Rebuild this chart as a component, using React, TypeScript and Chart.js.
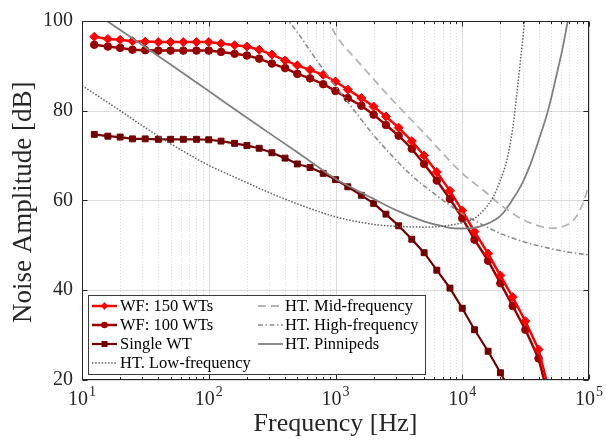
import React, { useEffect, useRef } from 'react';
import { Chart, registerables } from 'chart.js';

Chart.register(...registerables);

// ---- Data ----
const bandFreqs = [12.5, 16, 20, 25, 31.5, 40, 50, 63, 80, 100, 125, 160, 200, 250, 315, 400, 500, 630, 800, 1000,
  1250, 1600, 2000, 2500, 3150, 4000, 5000, 6300, 8000, 10000, 12500, 16000, 20000, 25000, 31500, 40000, 50000];

const wf150 = [96.5, 96.0, 95.8, 95.5, 95.4, 95.3, 95.3, 95.3, 95.3, 95.3, 95.0, 94.6, 94.3, 93.6, 92.5, 91.2, 90.1, 89.1, 88.0, 86.5,
  84.7, 82.8, 80.9, 78.7, 76.2, 73.2, 70.0, 66.3, 62.1, 57.7, 53.0, 48.1, 43.2, 38.4, 33.0, 26.7, 16.0];

const wf100 = [94.7, 94.3, 94.0, 93.6, 93.5, 93.4, 93.4, 93.4, 93.4, 93.4, 93.1, 92.7, 92.3, 91.6, 90.5, 89.5, 88.2, 87.2, 85.9, 84.4,
  82.8, 81.1, 79.1, 76.8, 74.4, 71.5, 68.1, 64.4, 60.3, 56.0, 51.2, 46.5, 41.5, 36.4, 31.1, 24.7, 14.0];

const singleFreqs = bandFreqs.slice(0, 34);
const singleWT = [74.7, 74.3, 74.1, 73.7, 73.7, 73.6, 73.6, 73.6, 73.6, 73.5, 73.2, 72.7, 72.2, 71.6, 70.6, 69.4, 68.1, 67.3, 66.0, 64.6,
  63.0, 61.1, 59.3, 56.9, 54.3, 51.3, 48.3, 44.4, 40.4, 35.9, 31.1, 26.3, 21.5, 16.5];

const htLowFreqs = [10, 15, 20, 30, 50, 70, 100, 150, 200, 300, 500, 700, 1000, 1500, 2000, 3000, 5000, 7000, 10000,
  12500, 15000, 17500, 20000, 22500, 25000, 27000, 29000, 31000, 33000];
const htLow = [85.6, 82.3, 80.0, 76.6, 72.6, 70.2, 67.8, 65.5, 63.9, 61.7, 59.2, 57.7, 56.3, 55.2, 54.6, 54.2, 54.0, 54.2, 55.0,
  56.0, 58.0, 60.7, 64.5, 69.0, 76.0, 84.0, 92.0, 100.0, 108.0];

const htMidFreqs = [850, 1000, 1500, 2000, 3000, 5000, 7000, 10000, 15000, 20000, 30000, 40000, 50000, 60000, 70000, 80000, 90000, 100000];
const htMid = [101, 97, 91, 87, 81.5, 75, 70.5, 66, 62, 59, 55.7, 54.3, 53.8, 54, 54.8, 56.5, 59.5, 63.5];

const htHighFreqs = [400, 500, 700, 1000, 1500, 2000, 3000, 4000, 6000, 10000, 15000, 20000, 30000, 50000, 70000, 100000];
const htHigh = [101, 97.5, 91.5, 85.5, 79, 74.5, 69, 65.5, 61.5, 57, 54.3, 52.6, 50.8, 49.2, 48.4, 47.8];

const htPinFreqs = [10, 20, 50, 100, 200, 500, 1000, 1500, 2000, 3000, 5000, 7000, 9000, 12000, 15000, 20000, 25000, 30000,
  35000, 40000, 47500, 55000, 62000, 68000, 75000];
const htPin = [103.8, 98.0, 90.3, 84.4, 78.4, 70.7, 64.8, 62.1, 60.3, 57.8, 55.3, 54.2, 53.7, 53.8, 54.5, 56.5, 60.2, 64.0,
  68.5, 73.3, 80.0, 87.5, 94.0, 100.0, 106.0];

const seriesLabels = ['WF: 150 WTs', 'WF: 100 WTs', 'Single WT', 'HT. Low-frequency', 'HT. Mid-frequency', 'HT. High-frequency', 'HT. Pinnipeds'];
const yTicks = [20, 40, 60, 80, 100];
const xDecades = [1, 2, 3, 4, 5];

const FONT = '"Liberation Serif", "Times New Roman", serif';
const AX = '#262626';

const pts = (xs: number[], ys: number[]) => xs.map((x, i) => ({ x, y: ys[i] }));

const decorPlugin = {
  id: 'decor',
  beforeDatasetsDraw(chart: any) {
    const { ctx, chartArea: a, scales } = chart;
    const xs = scales.x, ys = scales.y;
    ctx.save();
    ctx.strokeStyle = 'rgba(0,0,0,0.13)';
    ctx.lineWidth = 1;
    ctx.setLineDash([1, 2]);
    for (let d = 1; d <= 4; d++) {
      for (let k = 2; k <= 9; k++) {
        const px = Math.round(xs.getPixelForValue(k * Math.pow(10, d))) + 0.5;
        ctx.beginPath(); ctx.moveTo(px, a.top); ctx.lineTo(px, a.bottom); ctx.stroke();
      }
    }
    ctx.setLineDash([]);
    ctx.strokeStyle = 'rgba(0,0,0,0.14)';
    xDecades.forEach((e) => {
      const px = Math.round(xs.getPixelForValue(Math.pow(10, e))) + 0.5;
      ctx.beginPath(); ctx.moveTo(px, a.top); ctx.lineTo(px, a.bottom); ctx.stroke();
    });
    yTicks.forEach((v) => {
      const py = Math.round(ys.getPixelForValue(v)) + 0.5;
      ctx.beginPath(); ctx.moveTo(a.left, py); ctx.lineTo(a.right, py); ctx.stroke();
    });
    ctx.restore();
  },
  afterDatasetsDraw(chart: any) {
    const { ctx, chartArea: a, scales } = chart;
    const xs = scales.x, ys = scales.y;
    ctx.save();
    ctx.strokeStyle = AX;
    ctx.lineWidth = 1;
    ctx.setLineDash([]);
    const L = Math.round(a.left) + 0.5, R = Math.round(a.right) - 0.5;
    const T = Math.round(a.top) + 0.5, B = Math.round(a.bottom) - 0.5;
    ctx.strokeRect(L, T, R - L, B - T);
    for (let d = 1; d <= 5; d++) {
      const px = Math.round(xs.getPixelForValue(Math.pow(10, d))) + 0.5;
      ctx.beginPath(); ctx.moveTo(px, B); ctx.lineTo(px, B - 5); ctx.moveTo(px, T); ctx.lineTo(px, T + 5); ctx.stroke();
      if (d < 5) {
        for (let k = 2; k <= 9; k++) {
          const mx = Math.round(xs.getPixelForValue(k * Math.pow(10, d))) + 0.5;
          ctx.beginPath(); ctx.moveTo(mx, B); ctx.lineTo(mx, B - 2.5); ctx.moveTo(mx, T); ctx.lineTo(mx, T + 2.5); ctx.stroke();
        }
      }
    }
    yTicks.forEach((v) => {
      const py = Math.round(ys.getPixelForValue(v)) + 0.5;
      ctx.beginPath(); ctx.moveTo(L, py); ctx.lineTo(L + 5, py); ctx.moveTo(R, py); ctx.lineTo(R - 5, py); ctx.stroke();
    });
    ctx.restore();
  },
  afterDraw(chart: any) {
    const { ctx, chartArea: a, scales } = chart;
    const xs = scales.x;
    ctx.save();
    ctx.fillStyle = AX;
    xDecades.forEach((e) => {
      const px = xs.getPixelForValue(Math.pow(10, e));
      ctx.font = `20px ${FONT}`;
      const w1 = ctx.measureText('10').width;
      ctx.font = `14px ${FONT}`;
      const w2 = ctx.measureText(String(e)).width;
      const start = px - (w1 + w2 + 1) / 2;
      ctx.textAlign = 'left';
      ctx.textBaseline = 'alphabetic';
      ctx.font = `20px ${FONT}`;
      ctx.fillText('10', start, 405);
      ctx.font = `14px ${FONT}`;
      ctx.fillText(String(e), start + w1 + 1, 396);
    });
    ctx.font = `26px ${FONT}`;
    ctx.textAlign = 'center';
    ctx.fillText('Frequency [Hz]', (a.left + a.right) / 2, 431);
    ctx.save();
    ctx.translate(31, (a.top + a.bottom) / 2 + 2);
    ctx.rotate(-Math.PI / 2);
    ctx.font = `27px ${FONT}`;
    ctx.fillText('Noise Amplitude [dB]', 0, 0);
    ctx.restore();

    const bx = 88.5, by = 295.5, bw = 337, bh = 79;
    ctx.fillStyle = '#ffffff';
    ctx.fillRect(bx, by, bw, bh);
    ctx.strokeStyle = '#3a3a3a';
    ctx.lineWidth = 1;
    ctx.setLineDash([]);
    ctx.strokeRect(bx, by, bw, bh);
    const rows = [306, 325, 344, 363];
    chart.data.datasets.forEach((ds: any, i: number) => {
      const col = i < 4 ? 0 : 1;
      const row = i < 4 ? i : i - 4;
      const x1 = col === 0 ? 92 : 258;
      const x2 = col === 0 ? 117 : 283;
      const tx = col === 0 ? 120 : 285;
      const y = rows[row];
      ctx.strokeStyle = ds.borderColor;
      ctx.lineWidth = ds.borderWidth;
      ctx.setLineDash(ds.borderDash || []);
      ctx.beginPath(); ctx.moveTo(x1, y); ctx.lineTo(x2, y); ctx.stroke();
      ctx.setLineDash([]);
      if (ds.pointRadius > 0) {
        const cx = (x1 + x2) / 2;
        ctx.fillStyle = ds.pointBackgroundColor;
        ctx.beginPath();
        if (ds.pointStyle === 'rectRot') {
          ctx.moveTo(cx, y - 4); ctx.lineTo(cx + 3.5, y); ctx.lineTo(cx, y + 4); ctx.lineTo(cx - 3.5, y); ctx.closePath();
        } else if (ds.pointStyle === 'circle') {
          ctx.arc(cx, y, 3.3, 0, Math.PI * 2);
        } else {
          ctx.rect(cx - 3, y - 3, 6, 6);
        }
        ctx.fill();
      }
      ctx.fillStyle = '#000000';
      ctx.font = `16.5px ${FONT}`;
      ctx.textAlign = 'left';
      ctx.textBaseline = 'middle';
      ctx.fillText(ds.label, tx, y + 1);
    });
    ctx.restore();
  },
};

export default function App() {
  const ref = useRef<HTMLCanvasElement | null>(null);
  useEffect(() => {
    if (!ref.current) return;
    const markerDs = (label: string, data: any, color: string, style: string, r: number, bw: number) => ({
      label, data, borderColor: color, backgroundColor: color, borderWidth: bw,
      pointStyle: style, pointRadius: r, pointBackgroundColor: color, pointBorderColor: color,
      pointBorderWidth: 1, tension: 0, clip: 0, order: 1,
    });
    const htDs = (label: string, data: any, color: string, dash: number[], bw: number) => ({
      label, data, borderColor: color, backgroundColor: color, borderWidth: bw, borderDash: dash,
      pointRadius: 0, cubicInterpolationMode: 'monotone', clip: 0, order: 0,
    });
    const chart = new Chart(ref.current, {
      type: 'line',
      data: {
        datasets: [
          markerDs(seriesLabels[0], pts(bandFreqs, wf150), '#ff0000', 'rectRot', 4.5, 2.5),
          markerDs(seriesLabels[1], pts(bandFreqs, wf100), '#990000', 'circle', 3.8, 2.5),
          markerDs(seriesLabels[2], pts(singleFreqs, singleWT), '#700000', 'rect', 4.2, 2.2),
          htDs(seriesLabels[3], pts(htLowFreqs, htLow), '#606060', [1.5, 1.7], 1.5),
          htDs(seriesLabels[4], pts(htMidFreqs, htMid), '#b4b4b4', [8, 5], 1.8),
          htDs(seriesLabels[5], pts(htHighFreqs, htHigh), '#8c8c8c', [5, 2.5, 1.5, 2.5], 1.6),
          htDs(seriesLabels[6], pts(htPinFreqs, htPin), '#808080', [], 1.8),
        ] as any,
      },
      options: {
        responsive: false,
        maintainAspectRatio: false,
        animation: false,
        events: [],
        layout: { padding: { left: 0, right: 17, top: 20, bottom: 0 } },
        plugins: { legend: { display: false }, tooltip: { enabled: false }, title: { display: false } },
        scales: {
          x: {
            type: 'logarithmic', min: 10, max: 100000,
            grid: { display: false, drawTicks: false }, border: { display: false },
            ticks: { display: false },
            afterFit: (s: any) => { s.height = 62.5; },
          },
          y: {
            type: 'linear', min: 20, max: 100,
            grid: { display: false, drawTicks: false }, border: { display: false },
            ticks: { stepSize: 20, padding: 9, color: AX, font: { family: FONT, size: 20 } },
            afterFit: (s: any) => { s.width = 82; },
          },
        },
      } as any,
      plugins: [decorPlugin],
    });
    return () => chart.destroy();
  }, []);
  return (
    <div style={{ position: 'absolute', left: 0, top: 0, width: 606, height: 442, background: '#fff' }}>
      <canvas ref={ref} width={606} height={442} style={{ display: 'block', width: 606, height: 442 }} />
    </div>
  );
}
